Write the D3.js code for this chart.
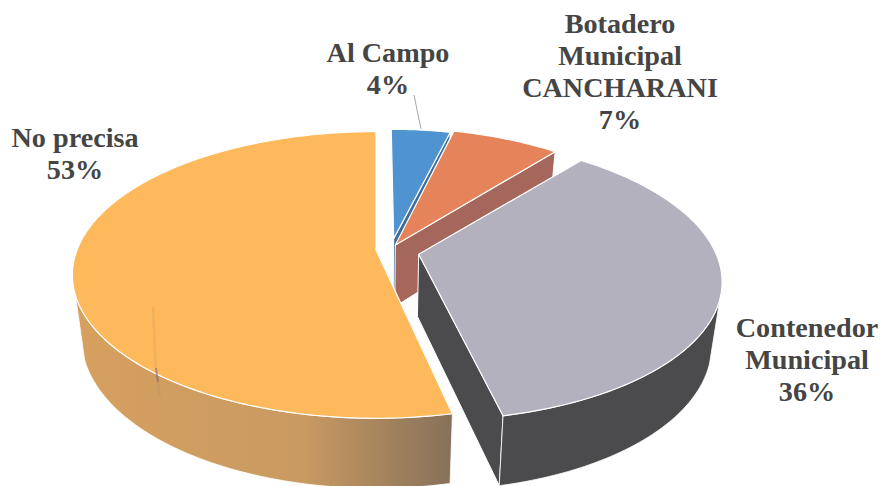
<!DOCTYPE html>
<html>
<head>
<meta charset="utf-8">
<script src="https://cdn.jsdelivr.net/npm/d3@7"></script>
<style>
  html, body { margin: 0; padding: 0; background: #fff; }
  svg { display: block; }
</style>
</head>
<body>
<div id="chart"></div>
<script>
const categories = ["Al Campo", "Botadero Municipal CANCHARANI", "Contenedor Municipal", "No precisa"];
const values = [4, 7, 35.6, 53.4];
const labelLines = [["Al Campo", "4%"],
                    ["Botadero", "Municipal", "CANCHARANI", "7%"],
                    ["Contenedor", "Municipal", "36%"],
                    ["No precisa", "53%"]];

const width = 880, height = 486;

// colours per slice
const topColors = ["#4F94D0", "#E5835A", "#B3B1BD", "#FDB95B"];
const wallColors = ["#3B6E9E", "#A5675C", "#4B4B4D", "url(#orangeWall)"];

// slice explosion and size, in disc units (x right, y towards viewer)
const explodeX = [0.06, 0.065, 0.142, 0];
const explodeY = [-0.083, -0.036, 0.03, 0];
const radiusX = [0.93, 0.97, 0.99, 1];
const radiusY = [0.94, 1, 0.98, 1];

// label placement
const labelX = [388, 620, 807, 75];
const labelY = [62, 33, 337, 147];
const lineStep = 32;

// projection of the disc, with some perspective
const centerX = 376, centerY = 250;
const scaleX = d3.scaleLinear().domain([0, 1]).range([0, 299]);
const scaleY = d3.scaleLinear().domain([0, 1]).range([0, 139]);
const persp = 0.174, depth = 62, baseShrink = 0.97;

function project(px, py, bottom) {
    const w = 1 - persp * py;
    const s = bottom ? baseShrink : 1;
    return [centerX + s * scaleX(px) / w,
            centerY + (s * scaleY(py) + (bottom ? depth : 0)) / w];
}

function rimPoint(angle, i, bottom) {
    return project(explodeX[i] + radiusX[i] * Math.sin(angle),
                   explodeY[i] - radiusY[i] * Math.cos(angle), bottom);
}

function arcAngles(a0, a1) {
    const n = Math.max(2, Math.ceil(Math.abs(a1 - a0) / 0.02));
    return d3.range(n + 1).map(k => a0 + (a1 - a0) * k / n);
}

const line = d3.line();

const svg = d3.select("#chart")
    .append("svg")
    .attr("width", width)
    .attr("height", height);

const grad = svg.append("defs").append("linearGradient")
    .attr("id", "orangeWall")
    .attr("gradientUnits", "userSpaceOnUse")
    .attr("x1", 75).attr("x2", 455).attr("y1", 0).attr("y2", 0);
grad.append("stop").attr("offset", "0").attr("stop-color", "#D6A05F");
grad.append("stop").attr("offset", "0.6").attr("stop-color", "#C99A62");
grad.append("stop").attr("offset", "1").attr("stop-color", "#85705A");

const pie = d3.pie().sort(null).value(d => d);
const slices = pie(values);

// the wall shows from a bit behind the sides of the disc round to the front
const wallFrom = Math.PI * 0.6, wallTo = Math.PI * 1.4;

slices.forEach((d, i) => {
    const g = svg.append("g").attr("class", "slice").attr("id", "slice-" + i);
    const apexTop = project(explodeX[i], explodeY[i], false);
    const apexBottom = project(explodeX[i], explodeY[i], true);

    // cut face at the end of the slice, only when it looks at the viewer
    if (d.endAngle < Math.PI) {
        const cornerTop = rimPoint(d.endAngle, i, false);
        const cornerBottom = rimPoint(d.endAngle, i, true);
        g.append("path")
            .attr("d", line([apexTop, cornerTop, cornerBottom, apexBottom]) + "Z")
            .attr("fill", wallColors[i])
            .attr("stroke", "#fff")
            .attr("stroke-width", 1);
    }

    // outer wall
    const from = Math.max(d.startAngle, wallFrom);
    const to = Math.min(d.endAngle, wallTo);
    if (to > from) {
        const angles = arcAngles(from, to);
        const upper = angles.map(a => rimPoint(a, i, false));
        const lower = angles.map(a => rimPoint(a, i, true)).reverse();
        g.append("path")
            .attr("d", line(upper.concat(lower)) + "Z")
            .attr("fill", wallColors[i])
            .attr("stroke", "#fff")
            .attr("stroke-width", 0.8);
    }

    // top face
    const rim = arcAngles(d.startAngle, d.endAngle).map(a => rimPoint(a, i, false));
    g.append("path")
        .attr("d", line([apexTop].concat(rim)) + "Z")
        .attr("fill", topColors[i])
        .attr("stroke", "#fff")
        .attr("stroke-width", 1.2)
        .attr("stroke-linejoin", "round");
});

// scan smudge on the big slice
svg.append("path")
    .attr("d", line([[153, 307], [156, 372], [160, 397]]))
    .attr("stroke", "#8A7A70")
    .attr("stroke-width", 2.5)
    .attr("stroke-opacity", 0.12)
    .attr("fill", "none");
svg.append("path")
    .attr("d", line([[156, 368], [158, 382]]))
    .attr("stroke", "#5F6478")
    .attr("stroke-width", 2)
    .attr("stroke-opacity", 0.45)
    .attr("fill", "none");

// leader line of the small slice
const leader = [[414, 95], [421, 129]];
svg.append("path")
    .attr("d", line(leader))
    .attr("stroke", "#A6A6A6")
    .attr("stroke-width", 1)
    .attr("fill", "none");

// labels
labelLines.forEach((lines, i) => {
    const t = svg.append("text")
        .attr("text-anchor", "middle")
        .attr("font-family", "'Liberation Serif', serif")
        .attr("font-weight", "bold")
        .attr("font-size", 28.2)
        .attr("fill", "#454545");
    lines.forEach((s, k) => {
        t.append("tspan")
            .attr("x", labelX[i])
            .attr("y", labelY[i] + k * lineStep)
            .text(s);
    });
});
</script>
</body>
</html>
